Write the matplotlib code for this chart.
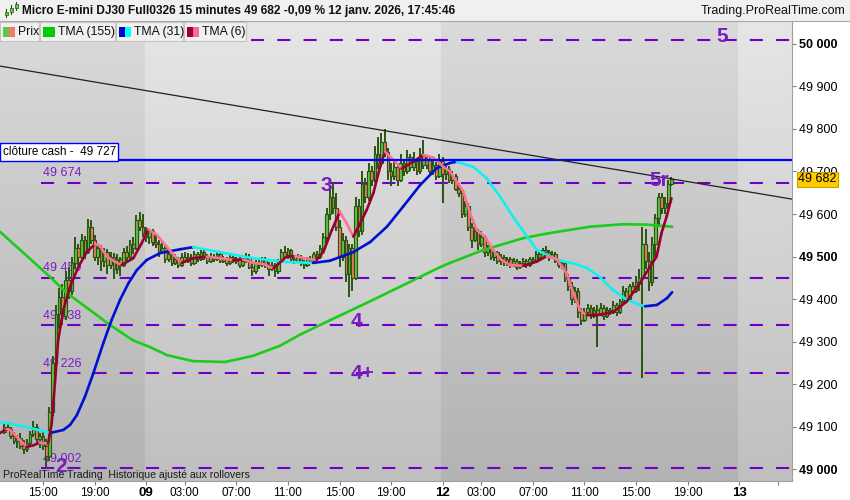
import numpy as np
import matplotlib
matplotlib.use('Agg')
import matplotlib.pyplot as plt
import matplotlib.transforms as mtransforms
from matplotlib.colors import LinearSegmentedColormap
from matplotlib.patches import Rectangle

plt.rcParams['font.family'] = ['Liberation Sans', 'DejaVu Sans']

# bougies 15 min, index 0 = 08 janv. 12:00 (pause 23:00-00:00, week-end retiré)
opens = [
    49088, 49100, 49095, 49078, 49065, 49072, 49055, 49048, 49062, 49082,
    49098, 49070, 49078, 49055, 49030, 49135, 49250, 49365, 49405, 49360,
    49445, 49420, 49485, 49520, 49500, 49540, 49510, 49570, 49540, 49500,
    49520, 49490, 49510, 49480, 49500, 49470, 49495, 49480, 49510, 49500,
    49530, 49520, 49585, 49570, 49555, 49545, 49560, 49535, 49530, 49510,
    49520, 49495, 49505, 49485, 49495, 49480, 49500, 49490, 49500, 49485,
    49505, 49495, 49510, 49500, 49490, 49500, 49495, 49505, 49490, 49495,
    49485, 49500, 49490, 49495, 49480, 49490, 49500, 49475, 49465, 49485,
    49480, 49495, 49480, 49470, 49480, 49465, 49490, 49510, 49500, 49515,
    49495, 49490, 49500, 49485, 49480, 49495, 49490, 49505, 49500, 49520,
    49545, 49600, 49640, 49615, 49570, 49500, 49540, 49460, 49520, 49450,
    49620, 49560, 49670, 49640, 49700, 49680, 49740, 49720, 49770, 49745,
    49700, 49690, 49710, 49680, 49720, 49700, 49735, 49710, 49725, 49700,
    49740, 49715, 49728, 49700, 49715, 49690, 49725, 49695, 49705, 49680,
    49690, 49660, 49650, 49600, 49620, 49570, 49540, 49560, 49530, 49545,
    49510, 49520, 49500, 49510, 49490, 49500, 49485, 49495, 49480, 49490,
    49475, 49485, 49490, 49480, 49495, 49490, 49505, 49500, 49515, 49510,
    49500, 49505, 49490, 49480, 49485, 49450, 49430, 49400, 49420, 49370,
    49350, 49370, 49380, 49360, 49375, 49365, 49380, 49360, 49375, 49370,
    49385, 49370, 49395, 49420, 49400, 49430, 49420, 49440, 49450, 49530,
    49490, 49440, 49530, 49590, 49640, 49615, 49625, 49670]
highs = [
    49108, 49110, 49100, 49088, 49080, 49085, 49068, 49070, 49090, 49112,
    49105, 49085, 49090, 49070, 49145, 49265, 49385, 49425, 49435, 49465,
    49475, 49500, 49545, 49530, 49552, 49548, 49588, 49585, 49550, 49530,
    49528, 49520, 49518, 49510, 49508, 49505, 49500, 49520, 49525, 49540,
    49545, 49598, 49605, 49600, 49570, 49565, 49565, 49550, 49540, 49535,
    49528, 49515, 49510, 49505, 49500, 49508, 49510, 49508, 49505, 49512,
    49510, 49515, 49515, 49505, 49508, 49506, 49512, 49510, 49502, 49500,
    49505, 49506, 49500, 49500, 49496, 49508, 49505, 49482, 49492, 49492,
    49500, 49500, 49488, 49488, 49485, 49495, 49518, 49525, 49520, 49518,
    49502, 49506, 49504, 49492, 49500, 49502, 49510, 49512, 49528, 49555,
    49615, 49660, 49675, 49650, 49585, 49555, 49548, 49530, 49530, 49640,
    49635, 49700, 49685, 49720, 49712, 49760, 49780, 49790, 49800, 49755,
    49720, 49725, 49718, 49740, 49730, 49750, 49742, 49745, 49732, 49755,
    49775, 49735, 49735, 49725, 49722, 49740, 49735, 49712, 49712, 49700,
    49695, 49672, 49655, 49630, 49625, 49578, 49575, 49565, 49560, 49550,
    49528, 49525, 49515, 49514, 49505, 49504, 49500, 49498, 49496, 49494,
    49490, 49496, 49494, 49500, 49500, 49512, 49510, 49520, 49525, 49515,
    49512, 49510, 49495, 49492, 49490, 49458, 49440, 49428, 49425, 49380,
    49378, 49388, 49385, 49382, 49385, 49390, 49385, 49382, 49380, 49395,
    49390, 49400, 49430, 49425, 49435, 49440, 49455, 49470, 49570, 49565,
    49510, 49545, 49600, 49650, 49650, 49640, 49680, 49688]
lows = [
    49082, 49090, 49070, 49060, 49050, 49048, 49035, 49040, 49055, 49075,
    49060, 49050, 49045, 49005, 49020, 49125, 49240, 49330, 49340, 49350,
    49400, 49410, 49470, 49480, 49490, 49495, 49505, 49530, 49490, 49480,
    49465, 49475, 49460, 49470, 49448, 49460, 49455, 49475, 49490, 49495,
    49505, 49515, 49560, 49545, 49535, 49530, 49525, 49520, 49500, 49505,
    49485, 49488, 49478, 49480, 49472, 49475, 49484, 49485, 49478, 49480,
    49488, 49490, 49492, 49482, 49485, 49488, 49490, 49484, 49485, 49478,
    49480, 49484, 49482, 49472, 49475, 49485, 49470, 49455, 49460, 49470,
    49475, 49474, 49455, 49465, 49452, 49460, 49485, 49495, 49495, 49488,
    49482, 49485, 49478, 49470, 49475, 49484, 49486, 49492, 49495, 49510,
    49535, 49585, 49600, 49560, 49475, 49490, 49440, 49405, 49420, 49445,
    49545, 49550, 49625, 49630, 49665, 49672, 49705, 49712, 49735, 49680,
    49665, 49680, 49665, 49675, 49690, 49695, 49700, 49702, 49692, 49695,
    49705, 49705, 49690, 49692, 49680, 49685, 49625, 49680, 49672, 49670,
    49655, 49640, 49590, 49592, 49560, 49520, 49535, 49515, 49522, 49500,
    49502, 49492, 49490, 49482, 49480, 49478, 49478, 49472, 49475, 49468,
    49470, 49478, 49474, 49476, 49482, 49485, 49490, 49495, 49500, 49490,
    49494, 49484, 49474, 49470, 49440, 49420, 49385, 49390, 49355, 49340,
    49345, 49362, 49352, 49355, 49287, 49360, 49350, 49355, 49362, 49365,
    49360, 49365, 49390, 49395, 49395, 49412, 49415, 49420, 49215, 49470,
    49420, 49430, 49500, 49570, 49600, 49600, 49615, 49665]
closes = [
    49100, 49095, 49078, 49065, 49072, 49055, 49048, 49062, 49082, 49098,
    49070, 49078, 49055, 49030, 49135, 49250, 49365, 49405, 49360, 49445,
    49420, 49485, 49520, 49500, 49540, 49510, 49570, 49540, 49500, 49520,
    49490, 49510, 49480, 49500, 49470, 49495, 49480, 49510, 49500, 49530,
    49520, 49585, 49570, 49555, 49545, 49560, 49535, 49530, 49510, 49520,
    49495, 49505, 49485, 49495, 49480, 49500, 49490, 49500, 49485, 49505,
    49495, 49510, 49500, 49490, 49500, 49495, 49505, 49490, 49495, 49485,
    49500, 49490, 49495, 49480, 49490, 49500, 49475, 49465, 49485, 49480,
    49495, 49480, 49470, 49480, 49465, 49490, 49510, 49500, 49515, 49495,
    49490, 49500, 49485, 49480, 49495, 49490, 49505, 49500, 49520, 49545,
    49600, 49640, 49615, 49570, 49500, 49540, 49460, 49520, 49450, 49620,
    49560, 49670, 49640, 49700, 49680, 49740, 49720, 49770, 49745, 49700,
    49690, 49710, 49680, 49720, 49700, 49735, 49710, 49725, 49700, 49740,
    49715, 49728, 49700, 49715, 49690, 49725, 49695, 49705, 49680, 49690,
    49660, 49650, 49600, 49620, 49570, 49540, 49560, 49530, 49545, 49510,
    49520, 49500, 49510, 49490, 49500, 49485, 49495, 49480, 49490, 49475,
    49485, 49490, 49480, 49495, 49490, 49505, 49500, 49515, 49510, 49500,
    49505, 49490, 49480, 49485, 49450, 49430, 49400, 49420, 49370, 49350,
    49370, 49380, 49360, 49375, 49365, 49380, 49360, 49375, 49370, 49385,
    49370, 49395, 49420, 49400, 49430, 49420, 49440, 49450, 49530, 49490,
    49440, 49530, 49590, 49640, 49615, 49625, 49670, 49682]

# moyennes mobiles (index de bougie, prix)
tma155_x = [-1.3, 14.2, 19.4, 25.7, 32.8, 39.9, 45.2, 50.5, 58.5, 68.5, 77, 85.5,
            91.7, 101, 114.4, 135.2, 138.3, 148.5, 160.9, 166.2, 171.5, 181.7, 192, 199.4, 207.2]
tma155_y = [49558, 49452, 49414, 49379, 49339, 49303, 49287, 49268, 49254, 49252, 49266, 49290,
            49316, 49350, 49398, 49475, 49485, 49515, 49543, 49551, 49558, 49570, 49576, 49575, 49570]

tma31_x = [-1.3, 6.4, 14.2, 18.3, 20.4, 22.5, 25, 27.6, 30.7, 33.3, 35.9, 38.5, 41.1, 44.2,
           48.3, 54.5, 58.6, 68.5, 77.2, 87.7, 95.8, 101, 108.2, 113.5, 118.7, 123.7, 129,
           134.2, 138.3, 140.4, 145.5, 149.7, 153.8, 157.8, 162.2, 165.3, 168.4, 171.5,
           176.4, 180.8, 184.8, 188.9, 193.2, 197.2, 198.8, 202.5, 205.6, 207.2]
tma31_y = [49111, 49100, 49085, 49092, 49104, 49127, 49170, 49225, 49296, 49351, 49398, 49437,
           49468, 49492, 49508, 49517, 49522, 49508, 49496, 49487, 49485, 49490, 49510, 49534,
           49570, 49617, 49668, 49708, 49720, 49723, 49711, 49684, 49641, 49594, 49547, 49515,
           49504, 49492, 49484, 49473, 49452, 49421, 49398, 49386, 49383, 49386, 49402, 49416]

tma6_x = [-1.3, 0.7, 1.8, 4.9, 6.9, 9, 11, 13.6, 14.7, 15.7, 16.7, 18.3, 20.4, 23, 25.6,
          28.1, 29.7, 31.8, 34.3, 36.4, 40, 42.6, 44.7, 47.3, 50.4, 53, 55, 58.6, 62.8,
          66.9, 71, 74.1, 77.2, 80.4, 83.5, 87.6, 90.2, 93.8, 96.9, 99, 101.6, 104.1,
          106.2, 108.3, 110.4, 112.4, 114.5, 116.6, 118.1, 120.7, 123.3, 126.9, 130,
          133.1, 136.2, 138.3, 139.3, 142.4, 144.5, 146.6, 149.1, 151.7, 154.3, 156.9,
          161, 165.2, 168.3, 171.4, 174.5, 176.6, 178.6, 180.7, 184.8, 189, 193.1, 197.2,
          200.3, 202.4, 203.9, 205.5, 207]
tma6_y = [49085, 49094, 49092, 49068, 49052, 49056, 49062, 49060, 49108, 49202, 49303,
          49374, 49429, 49476, 49511, 49529, 49525, 49500, 49488, 49480, 49496, 49531,
          49564, 49551, 49523, 49500, 49485, 49496, 49500, 49496, 49492, 49493, 49485,
          49482, 49472, 49500, 49501, 49495, 49492, 49511, 49562, 49605, 49578, 49547,
          49578, 49609, 49649, 49711, 49747, 49727, 49707, 49723, 49739, 49733, 49711,
          49700, 49688, 49653, 49602, 49562, 49547, 49515, 49492, 49480, 49478, 49488,
          49501, 49494, 49460, 49413, 49374, 49362, 49363, 49370, 49394, 49437, 49476,
          49500, 49555, 49594, 49637]

levels = [49002, 49226, 49338, 49450, 49674, 50010]
level_labels = ['49 002', '49 226', '49 338', '49 450', '49 674', '']
cash_close = 49727
trend_x = [-1.34, 244.4]
trend_y = [49948, 49635]
last_price = 49682
wave_text = ['5', '3', '5r', '4', '4+', '2']
wave_x = [222.8, 99.8, 203.2, 109.4, 111.0, 17.6]
wave_y = [50018, 49668, 49680, 49346, 49226, 49005]
xtick_pos = [12, 28, 44, 56, 72, 88, 104, 120, 136, 148, 164, 180, 196, 212, 228, 240]
xtick_lab = ['15:00', '19:00', '09', '03:00', '07:00', '11:00', '15:00', '19:00',
             '12', '03:00', '07:00', '11:00', '15:00', '19:00', '13', '']
day_edges = [-1.34, 43.5, 135.5, 227.5, 244.4]

XMIN, XMAX = -1.34, 244.4
YMIN, YMAX = 48972, 50054
PURPLE = '#7000c4'
WAVE = '#7a1cc4'
UP, DOWN, EDGE = '#5ec840', '#f07a68', '#2b5512'


def fx(x):
    return x / 850.0


def fy(y):
    return 1 - y / 500.0


fig = plt.figure(figsize=(8.5, 5), dpi=100)
fig.patch.set_facecolor('white')
ax = fig.add_axes([0, 19 / 500, 792 / 850, 460 / 500])

# fonds par journée
grad = np.linspace(0, 1, 256).reshape(-1, 1)
dark = LinearSegmentedColormap.from_list('dark', ['#b3b3b3', '#dadada'])
light = LinearSegmentedColormap.from_list('light', ['#bfbfbf', '#e6e6e6'])
for k in range(len(day_edges) - 1):
    cm = dark if k % 2 == 0 else light
    ax.imshow(grad, extent=[day_edges[k], day_edges[k + 1], YMIN, YMAX], origin='lower',
              aspect='auto', cmap=cm, zorder=0, interpolation='bilinear')

# niveaux
for lv, lab in zip(levels, level_labels):
    ax.hlines(lv, 11.4, XMAX, colors=PURPLE, linestyles=[(0, (6.3, 6.3))], lw=1.5, zorder=2)
    if lab:
        ax.text(12.0, lv + 8, lab, color=WAVE, fontsize=9, ha='left', va='bottom', zorder=2)

# bougies
idx = np.arange(len(closes))
o = np.array(opens)
h = np.array(highs)
l = np.array(lows)
c = np.array(closes)
up = c >= o
ax.vlines(idx, l, h, color=EDGE, lw=1.4, zorder=3)
ax.bar(idx, np.maximum(np.abs(c - o), 3), bottom=np.minimum(o, c), width=0.82,
       color=np.where(up, UP, DOWN), edgecolor=EDGE, linewidth=0.85, zorder=4)


def draw_tma(xs, ys, col_up, col_dn, lw, single=False):
    for k in range(len(xs) - 1):
        col = col_up if (single or ys[k + 1] >= ys[k]) else col_dn
        ax.plot(xs[k:k + 2], ys[k:k + 2], color=col, lw=lw, solid_capstyle='round', zorder=5)


draw_tma(tma155_x, tma155_y, '#1ccc1c', '#1ccc1c', 1.9, single=True)
draw_tma(tma31_x, tma31_y, '#0010d0', '#10f0f0', 1.9)
draw_tma(tma6_x, tma6_y, '#990030', '#ff7090', 1.9)

ax.axhline(cash_close, color='#0000ff', lw=1.6, zorder=6)
ax.plot(trend_x, trend_y, color='#202020', lw=0.9, zorder=6)

for t, x, y in zip(wave_text, wave_x, wave_y):
    ax.text(x, y, t, color=WAVE, fontsize=15, fontweight='bold', ha='center', va='center', zorder=7)

ax.set_xlim(XMIN, XMAX)
ax.set_ylim(YMIN, YMAX)

# axe des prix
yt = list(range(49000, 50001, 100))
ax.yaxis.tick_right()
ax.set_yticks(yt)
ax.set_yticklabels([f'{v:,}'.replace(',', ' ') for v in yt])
ax.tick_params(axis='y', length=3, pad=2, labelsize=9, color='#808080')
for lbl, v in zip(ax.get_yticklabels(), yt):
    if v % 500 == 0:
        lbl.set_fontweight('bold')

ax.set_xticks(xtick_pos)
ax.set_xticklabels(xtick_lab)
ax.tick_params(axis='x', length=3, pad=1, labelsize=8.5, color='#808080')
for lbl, t in zip(ax.get_xticklabels(), xtick_lab):
    if len(t) == 2:
        lbl.set_fontweight('bold')
        lbl.set_fontsize(9.5)

for s in ['left', 'top']:
    ax.spines[s].set_visible(False)
for s in ['right', 'bottom']:
    ax.spines[s].set_color('#a0a0a0')

tr = mtransforms.blended_transform_factory(ax.transAxes, ax.transData)
ax.text(1.0 + 6 / 792, last_price, '49 682', transform=tr, fontsize=9, ha='left', va='center',
        bbox=dict(boxstyle='square,pad=0.12', fc='#ffcc00', ec='#c8a000', lw=0.8),
        zorder=10, clip_on=False)

# étiquette clôture cash
fig.add_artist(Rectangle((fx(0), fy(161)), fx(118), 18 / 500, transform=fig.transFigure,
                         fc='white', ec='#0000ff', lw=1.0, zorder=3))
fig.text(fx(3), fy(152), 'clôture cash -  49 727', fontsize=8.5, va='center', ha='left',
         color='#000000', zorder=4)

fig.text(fx(3), fy(475), 'ProRealTime Trading  Historique ajusté aux rollovers', fontsize=7.6,
         va='center', ha='left', color='#1a1a1a', zorder=4)

# barre de titre
fig.add_artist(Rectangle((0, fy(21)), 1, 21 / 500, transform=fig.transFigure,
                         fc='#f0f0f0', ec='none', zorder=3))
fig.add_artist(plt.Line2D([0, 1], [fy(21), fy(21)], transform=fig.transFigure,
                          color='#a8a8a8', lw=0.8, zorder=4))
for (x0, y0, y1, y2) in [(5, 9, 12, 17), (10, 5, 8, 14), (15, 2, 4, 10)]:
    fig.add_artist(plt.Line2D([fx(x0 + 1), fx(x0 + 1)], [fy(y0), fy(y2)], transform=fig.transFigure,
                              color=EDGE, lw=0.8, zorder=4))
    fig.add_artist(Rectangle((fx(x0), fy(y2 - 2)), fx(2.5), (y2 - y1 - 2) / 500,
                             transform=fig.transFigure, fc=UP, ec=EDGE, lw=0.5, zorder=5))
fig.text(fx(22), fy(11), 'Micro E-mini DJ30 Full0326 15 minutes 49 682 -0,09 % 12 janv. 2026, 17:45:46',
         fontsize=8.6, fontweight='bold', va='center', ha='left', color='#101010', zorder=5)
fig.text(fx(845), fy(11), 'Trading.ProRealTime.com', fontsize=9.0, va='center', ha='right',
         color='#101010', zorder=5)

# onglets de légende
tabs = [(0, 39, ['#5ec840', '#f07a68'], 'Prix'),
        (40, 115, ['#00cc00', '#00cc00'], 'TMA (155)'),
        (116, 183, ['#0000cc', '#00ffff'], 'TMA (31)'),
        (184, 246, ['#990033', '#ff6699'], 'TMA (6)')]
for x0, x1, cols, lab in tabs:
    fig.add_artist(Rectangle((fx(x0), fy(41)), fx(x1 - x0), 19 / 500, transform=fig.transFigure,
                             fc='#f0f0f0', ec='#c4c4c4', lw=0.8, zorder=5))
    fig.add_artist(Rectangle((fx(x0 + 3), fy(37)), fx(6), 10 / 500, transform=fig.transFigure,
                             fc=cols[0], ec='none', zorder=6))
    fig.add_artist(Rectangle((fx(x0 + 9), fy(37)), fx(6), 10 / 500, transform=fig.transFigure,
                             fc=cols[1], ec='none', zorder=6))
    fig.text(fx(x0 + 18), fy(32), lab, fontsize=8.8, va='center', ha='left', color='#101010', zorder=6)

fig.savefig('out.png', dpi=100)
